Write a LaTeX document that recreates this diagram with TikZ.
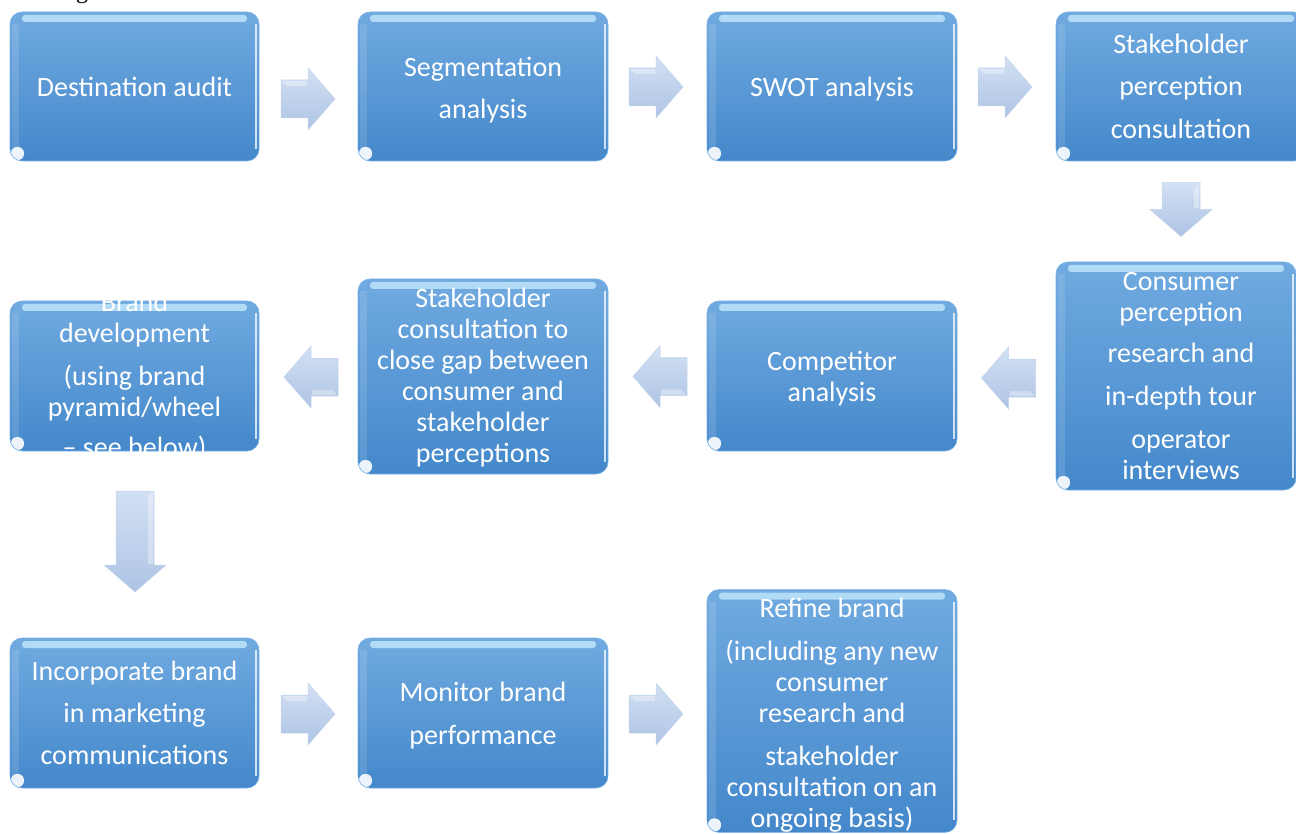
\documentclass[tikz,border=0pt]{standalone}
\usepackage{fontspec}
\setmainfont{Carlito}
\newfontfamily\capserif{Liberation Serif}
\usetikzlibrary{calc}
\definecolor{boxtop}{RGB}{112,170,224}
\definecolor{boxbot}{RGB}{68,136,203}
\definecolor{boxedge}{RGB}{120,176,228}
\definecolor{gloss}{RGB}{190,228,250}
\definecolor{arrowlight}{RGB}{210,224,243}
\definecolor{arrowdark}{RGB}{174,196,229}
\definecolor{arrowedge}{RGB}{196,212,237}
\newcommand{\pushdown}[1]{\rule{0pt}{#1}}
\tikzset{
  boxtext/.style={inner sep=0pt, text=white, align=center, font=\fontsize{28}{31}\selectfont},
  stepbox/.style={boxtext, rectangle, rounded corners=12pt,
    top color=boxtop, bottom color=boxbot, draw=boxedge, line width=0.6pt,
    path picture={
      \fill[gloss, opacity=0.85, rounded corners=3pt]
        ([xshift=12pt,yshift=-3pt]path picture bounding box.north west) rectangle
        ([xshift=-12pt,yshift=-10pt]path picture bounding box.north east);
      \fill[white, opacity=0.12, sharp corners]
        ([xshift=2pt,yshift=-12pt]path picture bounding box.north west) rectangle
        ([xshift=9pt,yshift=12pt]path picture bounding box.south west);
      \fill[white, opacity=0.75, sharp corners]
        ([xshift=-4.5pt,yshift=-12pt]path picture bounding box.north east) rectangle
        ([xshift=-2pt,yshift=12pt]path picture bounding box.south east);
      \fill[white, opacity=0.9, rounded corners=6pt]
        ([xshift=1pt,yshift=1pt]path picture bounding box.south west) rectangle
        ([xshift=14pt,yshift=14pt]path picture bounding box.south west);
    }},
  arrowshade/.style={top color=arrowlight, bottom color=arrowdark, draw=arrowedge, line width=0.5pt},
  pics/blockarrow/.style={code={
    \path[arrowshade] ({-#1/2},-19) -- ({#1/2-27},-19) -- ({#1/2-27},-31) -- ({#1/2},0)
      -- ({#1/2-27},31) -- ({#1/2-27},19) -- ({-#1/2},19) -- cycle;
    \fill[white, opacity=0.35] ({-#1/2+1},-18) -- ({#1/2-28},-18) -- ({#1/2-28},-13) -- ({-#1/2+6},-13) -- cycle;
  }},
}
\begin{document}
\begin{tikzpicture}[x=1pt,y=-1pt]
\useasboundingbox (0,0) rectangle (1296,834);
\begin{scope}
\clip (0,0) rectangle (1296,834);
\node[font=\capserif\fontsize{24}{24}\selectfont, anchor=base, inner sep=0pt] (cap) at (82,-1.5) {g};

% row 1
\node[stepbox, minimum width=249pt, minimum height=149pt] (b1) at (134.5,86.5) {Destination audit};
\node[stepbox, minimum width=250pt, minimum height=149pt] (b2) at (483,86.5) {\pushdown{26pt}Segmentation\\[11pt]analysis};
\node[stepbox, minimum width=250pt, minimum height=149pt] (b3) at (832,86.5) {\pushdown{24pt}SWOT analysis};
\node[stepbox, minimum width=250pt, minimum height=149pt] (b4) at (1181,86.5) {Stakeholder\\[11pt]perception\\[12pt]consultation};

% row 2
\node[stepbox, minimum width=240pt, minimum height=228pt] (b5) at (1176,376) {};
\node[boxtext] (t5) at (1181,376) {Consumer\\perception\\[10pt]research and\\[12pt]in-depth tour\\[12pt]operator\\interviews};
\node[stepbox, minimum width=250pt, minimum height=150pt] (b6) at (832,376) {\pushdown{24pt}Competitor\\analysis};
\node[stepbox, minimum width=250pt, minimum height=195pt] (b7) at (483,376.5) {\pushdown{22pt}Stakeholder\\consultation to\\close gap between\\consumer and\\stakeholder\\perceptions};
\node[stepbox, minimum width=249pt, minimum height=150pt] (b8) at (134.5,376) {};
\node[boxtext] (t8) at (134.5,376.5) {Brand\\development\\[12pt](using brand\\pyramid/wheel\\[9pt]– see below)};

% row 3
\node[stepbox, minimum width=249pt, minimum height=150pt] (b9) at (134.5,713) {Incorporate brand\\[11pt]in marketing\\[11pt]communications};
\node[stepbox, minimum width=250pt, minimum height=150pt] (b10) at (483,713) {\pushdown{25pt}Monitor brand\\[12pt]performance};
\node[stepbox, minimum width=250pt, minimum height=242pt] (b11) at (832,711) {\pushdown{28pt}Refine brand\\[12pt](including any new\\consumer\\research and\\[12pt]stakeholder\\consultation on an\\ongoing basis)};

% block arrows
\pic (a1) at (308,99) {blockarrow=54};
\pic (a2) at (656,87) {blockarrow=54};
\pic (a3) at (1005,87) {blockarrow=54};
\pic[rotate=-90] (a4) at (1181,209.5) {blockarrow=54};
\pic[rotate=180] (a5) at (1008.5,378) {blockarrow=54};
\pic[rotate=180] (a6) at (660,376.5) {blockarrow=54};
\pic[rotate=180] (a7) at (311,377) {blockarrow=54};
\pic[rotate=-90] (a8) at (135,541.5) {blockarrow=101};
\pic (a9) at (308,714) {blockarrow=54};
\pic (a10) at (656,714) {blockarrow=54};
\end{scope}
\end{tikzpicture}
\end{document}
